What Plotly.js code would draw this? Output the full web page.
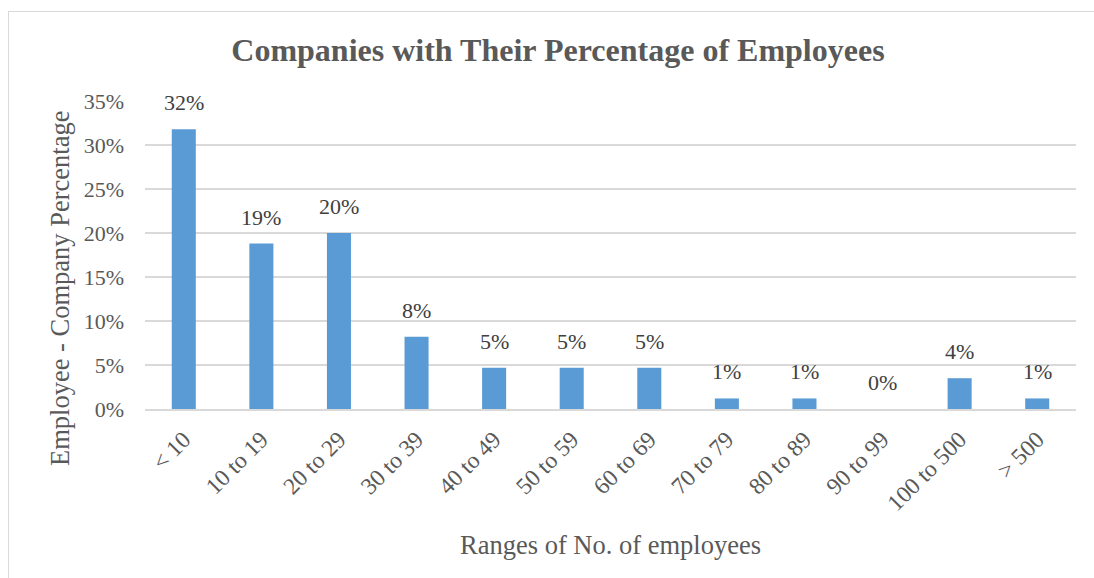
<!DOCTYPE html>
<html>
<head>
<meta charset="utf-8">
<script src="https://cdn.plot.ly/plotly-3.0.1.min.js"></script>
<style>
  html, body { margin: 0; padding: 0; background: #fff; }
  #wrap { position: relative; width: 1094px; height: 578px; }
  #frame { position: absolute; left: 8px; top: 11px; width: 1100px; height: 600px;
           border-left: 1.5px solid #d9d9d9; border-top: 1.5px solid #d9d9d9; pointer-events: none; }
  #chart { position: absolute; left: 0; top: 0; width: 1094px; height: 578px; }
</style>
</head>
<body>
<div id="wrap">
  <div id="chart"></div>
  <div id="frame"></div>
</div>
<script>
const categories = ["< 10", "10 to 19", "20 to 29", "30 to 39", "40 to 49", "50 to 59",
                    "60 to 69", "70 to 79", "80 to 89", "90 to 99", "100 to 500", "> 500"];
const shares = [0.318, 0.188, 0.200, 0.082, 0.047, 0.047, 0.047, 0.012, 0.012, 0.0, 0.035, 0.012];
const labels = shares.map(v => Math.round(v * 100) + "%");
const titleText = "Companies with Their Percentage of Employees";
const xTitle = "Ranges of No. of employees";
const yTitle = "Employee - Company Percentage";

const serif = "Liberation Serif";

const trace = {
  type: "bar",
  x: categories,
  y: shares,
  marker: { color: "#5b9bd5", line: { width: 0 } },
  width: 0.31,
  hoverinfo: "skip"
};

const annotations = categories.map((c, i) => ({
  x: c, y: shares[i], xref: "x", yref: "y",
  text: labels[i], showarrow: false,
  yanchor: "bottom", yshift: 12,
  font: { family: serif, size: 22, color: "#404040" }
}));

annotations.push({
  xref: "paper", yref: "paper", x: -0.0913, y: 0.393,
  xanchor: "center", yanchor: "middle", textangle: -90,
  text: yTitle, showarrow: false,
  font: { family: serif, size: 26.5, color: "#595959" }
});

const layout = {
  width: 1094, height: 578,
  margin: { l: 145, r: 18, t: 101, b: 169 },
  paper_bgcolor: "rgba(0,0,0,0)",
  plot_bgcolor: "rgba(0,0,0,0)",
  showlegend: false,
  annotations: annotations,
  title: {
    text: "<b>" + titleText + "</b>",
    font: { family: serif, size: 32, color: "#595959" },
    x: 0.51, xanchor: "center", xref: "container",
    y: 0.913, yanchor: "middle"
  },
  xaxis: {
    type: "category",
    tickangle: -45,
    tickfont: { family: serif, size: 23.5, color: "#595959" },
    showgrid: false,
    showline: true, linecolor: "#d9d9d9", linewidth: 1.5,
    ticks: "",
    ticklabelstandoff: 6,
    title: { text: xTitle, font: { family: serif, size: 26.5, color: "#595959" }, standoff: 20 },
    automargin: false
  },
  yaxis: {
    range: [0, 0.35],
    dtick: 0.05,
    tickformat: ".0%",
    tickfont: { family: serif, size: 22, color: "#595959" },
    showgrid: true, gridcolor: "#d9d9d9", gridwidth: 1.5,
    zeroline: false,
    showline: false,
    ticks: "",
    ticklabelstandoff: 20,
    automargin: false
  }
};

Plotly.newPlot("chart", [trace], layout, { displayModeBar: false, staticPlot: true });
</script>
</body>
</html>
